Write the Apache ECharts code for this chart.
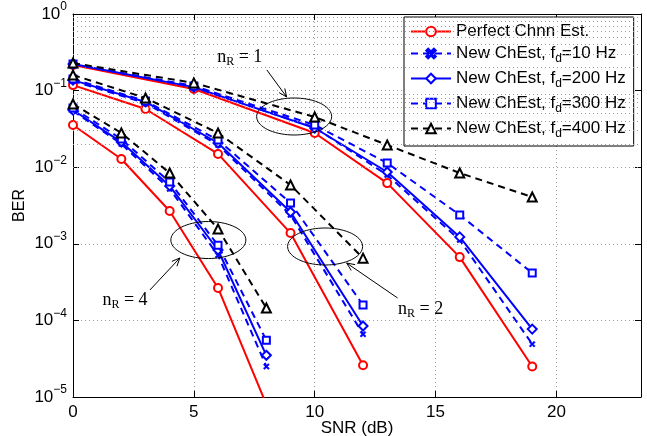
<!DOCTYPE html>
<html><head><meta charset="utf-8">
<script src="https://cdn.jsdelivr.net/npm/echarts@6/dist/echarts.min.js"></script>
<style>html,body{margin:0;padding:0;background:#fff}#c{width:647px;height:436px}</style>
</head><body><div id="c"></div>
<script>
// ---- data ----
const snrR1 = [0, 5, 10, 13, 16, 19];
const snrR2 = [0, 3, 6, 9, 12];
const snrR4 = [0, 2, 4, 6, 8];

const perfectR1 = [0.216, 0.105, 0.028, 0.0062, 6.7e-4, 2.5e-5];
const perfectR2 = [0.118, 0.0575, 0.0149, 1.38e-3, 2.6e-5];
const perfectR4 = [0.0356, 0.0128, 2.68e-3, 2.65e-4, 8e-6];

const fd10R1 = [0.222, 0.111, 0.033, 0.0079, 1.12e-3, 4.9e-5];
const fd10R2 = [0.133, 0.0689, 0.0195, 2.38e-3, 6.6e-5];
const fd10R4 = [0.0542, 0.0201, 5.2e-3, 7.1e-4, 2.5e-5];

const fd200R1 = [0.222, 0.111, 0.0325, 0.00866, 1.23e-3, 7.7e-5];
const fd200R2 = [0.137, 0.071, 0.0207, 2.6e-3, 8.45e-5];
const fd200R4 = [0.0558, 0.0213, 5.7e-3, 8.3e-4, 3.5e-5];

const fd300R1 = [0.222, 0.115, 0.0356, 0.01135, 2.38e-3, 4.16e-4];
const fd300R2 = [0.142, 0.0731, 0.0227, 3.41e-3, 1.59e-4];
const fd300R4 = [0.0593, 0.0233, 6.4e-3, 9.6e-4, 5.5e-5];

const fd400R1 = [0.229, 0.126, 0.0452, 0.0195, 0.0084, 0.00408];
const fd400R2 = [0.160, 0.080, 0.028, 5.86e-3, 6.5e-4];
const fd400R4 = [0.0668, 0.028, 8.4e-3, 1.56e-3, 1.45e-4];

const seriesNames = ['Perfect Chnn Est.', 'New ChEst, f_d=10 Hz', 'New ChEst, f_d=200 Hz', 'New ChEst, f_d=300 Hz', 'New ChEst, f_d=400 Hz'];

// annotations in data coordinates: [ellipse center, text center, arrow start, arrow end]
const annotations = [
  { label: '1', ell: [9.15, 0.0459], text: [6.9, 0.275], from: [8.02, 0.186], to: [8.84, 0.0825] },
  { label: '2', ell: [10.43, 9.22e-4], text: [14.38, 1.41e-4], from: [13.43, 1.96e-4], to: [11.32, 5.61e-4] },
  { label: '4', ell: [5.6, 1.12e-3], text: [2.15, 1.85e-4], from: [3.18, 2.49e-4], to: [4.42, 6.53e-4] }
];

// ---- build ----
const SANS = 'Liberation Sans, Arial, Helvetica, sans-serif';
const SERIF = 'Liberation Serif, Times New Roman, serif';
const xSym = 'path://M0,2L2,0L5,3L8,0L10,2L7,5L10,8L8,10L5,7L2,10L0,8L3,5Z';
const styleDefs = [
  { color: '#ff0000', dash: 'solid', symbol: 'emptyCircle', size: 8, bw: 1.6, sets: [perfectR1, perfectR2, perfectR4] },
  { color: '#0000ff', dash: [7, 5], symbol: xSym, size: 6, bw: 0.5, sets: [fd10R1, fd10R2, fd10R4] },
  { color: '#0000ff', dash: 'solid', symbol: 'emptyDiamond', size: 9, bw: 1.6, sets: [fd200R1, fd200R2, fd200R4] },
  { color: '#0000ff', dash: [7, 5], symbol: 'emptyRect', size: 7, bw: 2, sets: [fd300R1, fd300R2, fd300R4] },
  { color: '#000000', dash: [7, 5], symbol: 'emptyTriangle', size: 9, bw: 2, sets: [fd400R1, fd400R2, fd400R4] }
];
const xsets = [snrR1, snrR2, snrR4];

const minorLines = [];
for (let e = -5; e < 0; e++) for (let k = 2; k <= 9; k++) minorLines.push({ yAxis: k * Math.pow(10, e) });

const series = [{
  type: 'line', name: '_grid', data: [], silent: true, z: 0,
  markLine: { silent: true, symbol: ['none', 'none'], label: { show: false }, animation: false,
    lineStyle: { type: [1, 3], color: '#9a9a9a', width: 1 }, emphasis: { disabled: true }, data: minorLines }
}];
styleDefs.forEach((s, si) => {
  s.sets.forEach((ys, gi) => {
    series.push({
      type: 'line', name: seriesNames[si],
      data: xsets[gi].map((x, i) => [x, ys[i]]),
      symbol: s.symbol, symbolSize: s.size, showAllSymbol: true, clip: true,
      color: s.color,
      lineStyle: { color: s.color, width: 2, type: s.dash },
      itemStyle: { color: s.color, borderColor: s.color, borderWidth: s.bw },
      emphasis: { disabled: true }, animation: false, z: 2 + si
    });
  });
});

function legendFmt(name) {
  if (name.indexOf('f_d') < 0) return '{a|' + name + '}';
  const p = name.split('f_d');
  return '{a|' + p[0] + 'f}{sub|d}{a|' + p[1] + '}';
}

const axisLineStyle = { color: '#000', width: 1 };
const option = {
  backgroundColor: '#fff',
  animation: false,
  grid: { left: 73, right: 6, top: 14, bottom: 39, containLabel: false, outerBoundsMode: 'none' },
  legend: {
    orient: 'vertical', left: 404, top: 17, width: 234,
    data: seriesNames,
    backgroundColor: '#fff', borderColor: '#000', borderWidth: 1,
    padding: [6, 8, 6, 6], itemGap: 5, itemWidth: 40, itemHeight: 12,
    selectedMode: false,
    formatter: legendFmt,
    textStyle: {
      color: '#000', fontFamily: SANS, fontSize: 17,
      rich: {
        a: { fontFamily: SANS, fontSize: 17, color: '#000', lineHeight: 21 },
        sub: { fontFamily: SANS, fontSize: 12, color: '#000', padding: [11, 0, 0, 0] }
      }
    }
  },
  xAxis: [{
    type: 'value', min: 0, max: 23.5, interval: 5,
    axisLine: { show: true, onZero: false, lineStyle: axisLineStyle },
    axisTick: { show: true, inside: true, length: 6, lineStyle: axisLineStyle },
    axisLabel: { color: '#000', fontFamily: SANS, fontSize: 17, margin: 7, showMaxLabel: false,
      formatter: v => (Math.abs(v % 5) < 1e-9 ? String(v) : '') },
    splitLine: { show: true, lineStyle: { type: [1, 3], color: '#9a9a9a', width: 1 } },
    name: 'SNR (dB)', nameLocation: 'middle', nameGap: 23, nameMoveOverlap: false,
    nameTextStyle: { color: '#000', fontFamily: SANS, fontSize: 17 }
  }, {
    type: 'value', position: 'top', min: 0, max: 23.5, interval: 5,
    axisLine: { show: true, onZero: false, lineStyle: axisLineStyle },
    axisTick: { show: true, inside: true, length: 6, lineStyle: axisLineStyle },
    axisLabel: { show: false }, splitLine: { show: false }
  }],
  yAxis: [{
    type: 'log', logBase: 10, min: 1e-5, max: 1,
    axisLine: { show: true, onZero: false, lineStyle: axisLineStyle },
    axisTick: { show: true, inside: true, length: 6, lineStyle: axisLineStyle },
    axisLabel: {
      color: '#000', margin: 6,
      formatter: v => {
        const e = Math.round(Math.log10(v));
        return '{b|10}{s|' + (e < 0 ? '\u2212' + (-e) : e) + '}';
      },
      rich: {
        b: { fontFamily: SANS, fontSize: 17, color: '#000' },
        s: { fontFamily: SANS, fontSize: 12, color: '#000', padding: [0, 0, 14, 0] }
      }
    },
    splitLine: { show: true, lineStyle: { type: [1, 3], color: '#9a9a9a', width: 1 } },
    name: 'BER', nameLocation: 'middle', nameGap: 45, nameRotate: 90, nameMoveOverlap: false,
    nameTextStyle: { color: '#000', fontFamily: SANS, fontSize: 16 }
  }, {
    type: 'log', logBase: 10, min: 1e-5, max: 1, position: 'right',
    axisLine: { show: true, onZero: false, lineStyle: axisLineStyle },
    axisTick: { show: true, inside: true, length: 6, lineStyle: axisLineStyle },
    axisLabel: { show: false }, splitLine: { show: false }
  }],
  series: series
};

const chart = echarts.init(document.getElementById('c'), null, { renderer: 'canvas' });
chart.setOption(option);

// annotations through the chart's scales
const toPx = p => chart.convertToPixel({ xAxisIndex: 0, yAxisIndex: 0 }, p);
const graphics = [];
annotations.forEach(a => {
  const c = toPx(a.ell);
  const rx = 37.5, ry = 18.5;
  const pts = [];
  for (let i = 0; i <= 72; i++) {
    const t = i / 72 * Math.PI * 2;
    pts.push([c[0] + rx * Math.cos(t), c[1] + ry * Math.sin(t)]);
  }
  graphics.push({ type: 'polyline', shape: { points: pts }, style: { stroke: '#000', lineWidth: 1, fill: null }, z: 50 });
  const f = toPx(a.from), t = toPx(a.to);
  graphics.push({ type: 'line', shape: { x1: f[0], y1: f[1], x2: t[0], y2: t[1] }, style: { stroke: '#000', lineWidth: 1 }, z: 50 });
  const dx = t[0] - f[0], dy = t[1] - f[1], L = Math.hypot(dx, dy);
  const ux = dx / L, uy = dy / L, nx = -uy, ny = ux, hl = 8, hw = 3.5;
  graphics.push({ type: 'polyline', shape: { points: [
    [t[0] - ux * hl + nx * hw, t[1] - uy * hl + ny * hw], [t[0], t[1]], [t[0] - ux * hl - nx * hw, t[1] - uy * hl - ny * hw]] },
    style: { stroke: '#000', lineWidth: 1, fill: null }, z: 50 });
  const tp = toPx(a.text);
  graphics.push({ type: 'text', x: tp[0], y: tp[1], z: 50, style: {
    text: '{n|n}{r|R}{n| = ' + a.label + '}', align: 'center', verticalAlign: 'middle',
    rich: { n: { fontFamily: SERIF, fontSize: 18, fill: '#000' }, r: { fontFamily: SERIF, fontSize: 12, fill: '#000', padding: [9, 0, 0, 0] } }
  } });
});
chart.setOption({ graphic: graphics });
</script></body></html>
